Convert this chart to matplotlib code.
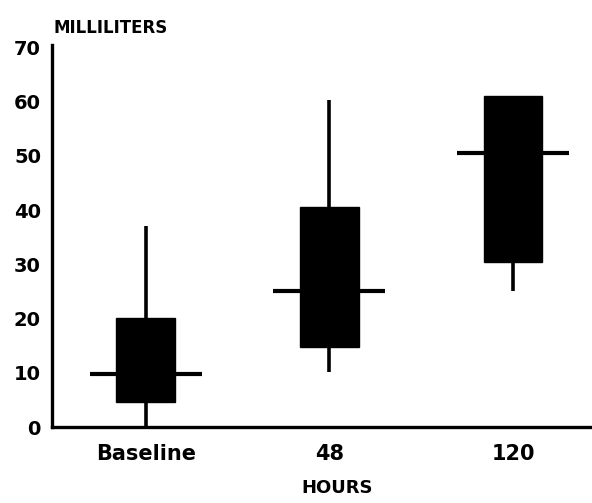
import matplotlib
matplotlib.use("Agg")
import matplotlib.pyplot as plt
import matplotlib.transforms as mtransforms

# values (millilitres)
categories = ["Baseline", "48", "120"]
q1 = [4.7, 14.8, 30.5]
q3 = [20.2, 40.6, 61.0]
medians = [9.8, 25.0, 50.6]
whisker_lo = [0, 10.2, 25.0]
whisker_hi = [37.0, 60.3, 61.0]
yticks = [0, 10, 20, 30, 40, 50, 60, 70]

plt.rcParams["font.family"] = ["DejaVu Sans"]
plt.rcParams["font.weight"] = "bold"

fig = plt.figure(figsize=(5.92, 5.03), dpi=100)
ax = fig.add_axes([0.088, 0.151, 0.912, 0.760])

pos = list(range(len(categories)))
box_w = 0.32
med_w = 0.61

ax.vlines(pos, whisker_lo, whisker_hi, color="black", lw=2.6, zorder=2)
ax.bar(pos, [h - l for l, h in zip(q1, q3)], bottom=q1, width=box_w,
       color="black", edgecolor="black", zorder=3)
ax.hlines(medians, [p - med_w / 2 for p in pos], [p + med_w / 2 for p in pos],
          color="black", lw=3.0, zorder=4)

ax.set_xlim(-0.51, 2.43)
ax.set_ylim(0, 70.5)
ax.set_xticks(pos)
ax.set_xticklabels(categories)
ax.set_yticks(yticks)
ax.tick_params(axis="both", length=0)
ax.tick_params(axis="x", pad=12, labelsize=15)
ax.tick_params(axis="y", pad=8, labelsize=14)

for side in ("top", "right"):
    ax.spines[side].set_visible(False)
for side in ("left", "bottom"):
    ax.spines[side].set_linewidth(2.4)

fig.text(0.091, 0.945, "MILLILITERS", fontsize=12, fontweight="bold",
         ha="left", va="center")
trans = mtransforms.blended_transform_factory(ax.transData, fig.transFigure)
ax.text(1.04, 0.03, "HOURS", transform=trans, fontsize=13, fontweight="bold",
        ha="center", va="center")

fig.savefig("out.png", dpi=100)
